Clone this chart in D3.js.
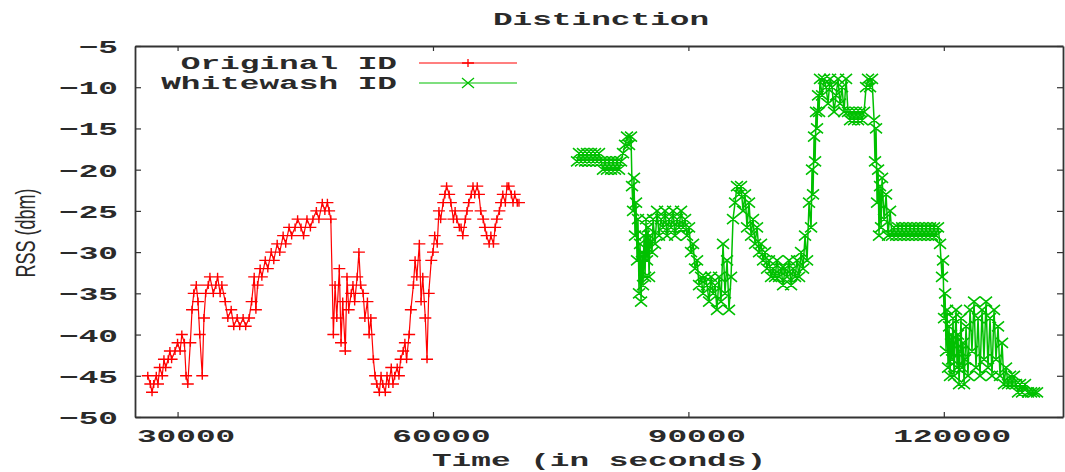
<!DOCTYPE html>
<html>
<head>
<meta charset="utf-8">
<script src="https://cdn.jsdelivr.net/npm/d3@7"></script>
<style>
  html, body { margin: 0; padding: 0; background: #fff; }
  svg { display: block; }
</style>
</head>
<body>
<svg id="chart" width="1065" height="472"></svg>
<script>
// ---------- data ----------
const chartTitle = "Distinction";
const xLabel = "Time (in seconds)";
const yLabel = "RSS (dbm)";
const seriesNames = ["Original ID", "Whitewash ID"];
const xTicks = [30000, 60000, 90000, 120000];
const yTicks = [-50, -45, -40, -35, -30, -25, -20, -15, -10, -5];

const originalTime = [
  26500,26800,27000,27200,27500,27700,27900,28200,28400,28600,
  28900,29100,29300,29700,30000,30300,30500,30800,31000,31200,
  31500,31700,31900,32200,32400,32600,32900,33100,33300,33600,
  33800,34200,34500,34700,35000,35200,35600,35900,36300,36600,
  37000,37300,37700,38000,38400,38700,39000,39200,39400,39700,
  39900,40300,40600,41000,41300,41700,42000,42400,42700,43100,
  43400,43800,44100,44500,44800,45200,45600,45900,46300,46600,
  47000,47300,47600,47800,48000,48300,48500,48700,49000,49200,
  49400,49700,49900,50100,50400,50600,50800,51100,51300,51500,
  51800,52000,52300,52500,52700,53000,53200,53400,53700,53900,
  54100,54400,54600,54800,55100,55300,55500,55800,56000,56200,
  56500,56700,56900,57200,57400,57700,57900,58100,58400,58600,
  58800,59100,59300,59500,59800,60000,60200,60500,60700,60900,
  61200,61400,61600,61900,62100,62400,62600,62800,63100,63300,
  63500,63800,64000,64200,64500,64700,64900,65200,65400,65600,
  65900,66100,66300,66600,66800,67100,67300,67500,67800,68000,
  68200,68500,68700,68900,69200,69400,69600,69900,70100
];
const originalRSS = [
  -45,-46,-47,-46,-45,-46,-44,-45,-43,-44,
  -43,-42,-43,-42,-41,-42,-40,-41,-45,-46,
  -41,-37,-35,-34,-36,-40,-45,-38,-35,-34,
  -33,-35,-34,-33,-35,-34,-36,-38,-37,-39,
  -38,-39,-38,-39,-38,-36,-33,-37,-34,-32,
  -33,-31,-32,-30,-31,-29,-30,-28,-29,-27,
  -28,-27,-26,-27,-28,-26,-27,-26,-25,-26,
  -24,-25,-24,-25,-26,-40,-34,-38,-32,-41,
  -36,-42,-33,-37,-35,-34,-36,-33,-30,-34,
  -35,-38,-36,-40,-38,-43,-45,-46,-47,-45,
  -46,-47,-45,-46,-44,-46,-45,-44,-45,-43,
  -42,-41,-43,-40,-37,-34,-31,-33,-29,-36,
  -33,-38,-43,-35,-31,-30,-28,-29,-25,-26,
  -24,-23,-22,-23,-24,-26,-25,-26,-27,-27,
  -28,-26,-25,-24,-23,-22,-23,-22,-23,-25,
  -26,-27,-28,-29,-28,-29,-27,-26,-25,-24,
  -23,-24,-22,-22,-23,-24,-23,-24,-24
];

const whitewashTime = [
  76920,77150,77390,77620,77860,78090,78330,78560,78800,79030,
  79270,79500,79740,79970,80210,80440,80680,80910,81150,81380,
  81620,81850,82090,82320,82560,82790,83030,83260,
  83380,83500,83610,83730,83850,83970,84080,84200,84320,84440,
  84550,84670,84790,84910,85020,85140,85260,85380,85490,
  85730,85850,86080,86320,86550,86790,87020,87260,87490,87730,
  87960,88200,88430,88670,88900,89140,89370,89610,89840,90080,
  90310,90550,90780,91020,91250,91490,91720,91960,92190,92430,
  92660,92900,93130,93360,93600,93830,94070,94300,94540,94770,
  95010,95240,95480,95710,95950,96180,96420,96650,96890,97120,
  97360,97590,97830,98060,98300,98530,98770,99000,99240,99470,
  99710,99940,100180,100410,100650,100880,101120,101350,101590,101820,
  102060,102290,102530,102760,103000,103230,103470,103700,103940,104170,
  104410,
  104520,104640,104760,104880,104990,105110,105230,105350,105460,
  105700,105930,106170,106400,106640,106870,107110,107340,107580,107810,
  108050,108280,108520,108750,108990,109220,109460,109690,109930,110160,
  110400,110630,110870,111100,111340,111570,111810,
  111920,112040,112160,112280,112390,112510,112630,112750,
  112980,113220,113450,113690,113920,114160,114390,114630,114860,115100,
  115330,115570,115800,116040,116270,116510,116740,116980,117210,117450,
  117680,117920,118150,118390,118620,118850,119090,119320,119560,119790,
  119910,120030,120150,120260,120380,120500,120620,120730,120850,120970,
  121080,121200,121320,121440,121550,121670,121790,121910,122020,122140,
  122260,122380,122490,122610,
  122840,123080,123310,123550,123780,124020,124250,124490,124720,124960,
  125190,125430,125660,125900,126130,126370,126600,126840,127070,127310,
  127540,127780,128010,128250,128480,128720,128950,129190,
  129540,129890,130250,130600,130950
];
const whitewashRSS = [
  -19,-18,-19,-18,-19,-18,-19,-18,-19,-18,
  -19,-18,-19,-20,-19,-20,-19,-20,-19,-20,
  -19,-20,-19,-18,-17,-16,-17,-16,
  -22,-25,-21,-28,-24,-31,-26,-35,-29,-36,
  -30,-34,-28,-33,-26,-31,-27,-33,-28,
  -30,-26,-29,-25,-28,-26,-27,-25,-28,-26,
  -27,-25,-28,-26,-27,-25,-27,-26,-28,-27,
  -30,-29,-32,-31,-34,-33,-35,-33,-34,-36,
  -33,-35,-34,-37,-33,-36,-29,-35,-31,-37,
  -33,-26,-24,-22,-23,-22,-25,-23,-27,-24,
  -28,-26,-29,-27,-30,-29,-31,-30,-32,-31,
  -33,-32,-33,-31,-33,-32,-34,-32,-33,-31,
  -34,-32,-33,-31,-33,-30,-32,-28,-31,-24,
  -27,
  -20,-23,-16,-19,-13,-15,-11,-13,-9,
  -11,-9,-10,-12,-9,-10,-13,-11,-9,-12,
  -10,-13,-9,-13,-14,-13,-14,-13,-14,-13,
  -14,-13,-10,-9,-10,-9,-14,
  -19,-15,-24,-20,-28,-22,-27,-21,
  -26,-23,-28,-25,-28,-27,-28,-27,-28,-27,
  -28,-27,-28,-27,-28,-27,-28,-27,-28,-27,
  -28,-27,-28,-27,-28,-27,-28,-27,-29,-33,
  -31,-38,-35,-42,-37,-44,-39,-45,-40,-43,
  -38,-45,-41,-37,-44,-40,-46,-42,-38,-44,
  -41,-46,-43,-39,
  -45,-37,-42,-36,-44,-38,-45,-37,-43,-36,
  -44,-38,-45,-37,-43,-39,-45,-41,-46,-44,
  -46,-45,-46,-45,-46,-47,-46,-47,
  -46,-47,-47,-47,-47
];

// ---------- layout ----------
const W = 1065, H = 472;
const plot = { left: 135, right: 1063, top: 46, bottom: 417 };
const SX = 1.82; // horizontal stretch of the text
const FS = "18px";
const monoFont = "'Liberation Mono', 'DejaVu Sans Mono', monospace";
const colors = ["#ff0000", "#00c000"];
const axisColor = "#333";
const textColor = "#2a2a2a";

const svg = d3.select("#chart");
svg.append("rect").attr("width", W).attr("height", H).attr("fill", "#fff");

const x = d3.scaleLinear().domain([25000, 134000]).range([plot.left, plot.right]);
const y = d3.scaleLinear().domain([-50, -5]).range([plot.bottom, plot.top]);

function monoText(sel) {
  return sel.attr("fill", textColor)
    .style("font-family", monoFont).style("font-size", FS).style("font-weight", "bold");
}

// axes (gnuplot style: ticks inward, mirrored)
function styleAxis(g) {
  g.select(".domain").attr("stroke", axisColor).attr("stroke-width", 1.8);
  g.selectAll(".tick line").attr("stroke", axisColor).attr("stroke-width", 1.2);
}
const gx = svg.append("g").attr("transform", `translate(0,${plot.bottom})`)
  .call(d3.axisBottom(x).tickValues(xTicks).tickSizeInner(-5).tickSizeOuter(0).tickFormat(d3.format("d")))
  .call(styleAxis);
gx.selectAll(".tick text")
  .attr("x", 0).attr("y", 0).attr("dy", 0)
  .attr("transform", `translate(8,25) scale(${SX},1)`)
  .call(monoText);

const gy = svg.append("g").attr("transform", `translate(${plot.left},0)`)
  .call(d3.axisLeft(y).tickValues(yTicks).tickSizeInner(-6).tickSizeOuter(0).tickFormat(d => "\u2212" + Math.abs(d)))
  .call(styleAxis);
gy.selectAll(".tick text")
  .attr("x", 0).attr("dy", "0.36em")
  .attr("transform", `translate(-17,0) scale(${SX},1)`)
  .attr("text-anchor", "end")
  .call(monoText);

svg.append("g").attr("transform", `translate(0,${plot.top})`)
  .call(d3.axisTop(x).tickValues(xTicks).tickSizeInner(-5).tickSizeOuter(0).tickFormat(""))
  .call(styleAxis);
svg.append("g").attr("transform", `translate(${plot.right},0)`)
  .call(d3.axisRight(y).tickValues(yTicks).tickSizeInner(-6).tickSizeOuter(0).tickFormat(""))
  .call(styleAxis);

// ---------- series ----------
const originalData = originalTime.map((t, i) => ({ t, v: originalRSS[i] }));
const whitewashData = whitewashTime.map((t, i) => ({ t, v: whitewashRSS[i] }));

const line = d3.line().x(d => x(d.t)).y(d => y(d.v));
const plus = (cx, cy) => `M${cx - 6},${cy}H${cx + 6}M${cx},${cy - 4}V${cy + 4}`;
const cross = (cx, cy) => `M${cx - 6},${cy - 5}L${cx + 6},${cy + 5}M${cx - 6},${cy + 5}L${cx + 6},${cy - 5}`;

const dataG = svg.append("g");
function drawSeries(data, color, marker, lw, mw) {
  dataG.append("path").datum(data)
    .attr("d", line).attr("fill", "none").attr("stroke", color).attr("stroke-width", lw);
  dataG.append("path")
    .attr("d", data.map(d => marker(x(d.t), y(d.v))).join(""))
    .attr("fill", "none").attr("stroke", color).attr("stroke-width", mw);
}
drawSeries(originalData, colors[0], plus, 1.2, 1.4);
drawSeries(whitewashData, colors[1], cross, 1.5, 1.6);

// ---------- legend ----------
const legendRows = [
  { name: seriesNames[0], color: colors[0], marker: plus, yPos: 63 },
  { name: seriesNames[1], color: colors[1], marker: cross, yPos: 83 }
];
legendRows.forEach(r => {
  svg.append("text")
    .attr("transform", `translate(397,${r.yPos}) scale(${SX},1)`)
    .attr("dy", "0.33em")
    .attr("text-anchor", "end")
    .call(monoText)
    .text(r.name);
  svg.append("line").attr("x1", 419).attr("x2", 517).attr("y1", r.yPos).attr("y2", r.yPos)
    .attr("stroke", r.color).attr("stroke-width", 1.1);
  svg.append("path").attr("d", r.marker(468, r.yPos))
    .attr("fill", "none").attr("stroke", r.color).attr("stroke-width", 1.3);
});

// ---------- titles ----------
svg.append("text")
  .attr("transform", `translate(601,25) scale(${SX},1)`)
  .attr("text-anchor", "middle")
  .call(monoText)
  .text(chartTitle);

svg.append("text")
  .attr("transform", `translate(599,466) scale(${SX},1)`)
  .attr("text-anchor", "middle")
  .call(monoText)
  .text(xLabel);

svg.append("text")
  .attr("transform", `translate(25,233) scale(1.5,1) rotate(-90)`)
  .attr("text-anchor", "middle").attr("dy", "0.36em").attr("fill", textColor)
  .style("font-family", "'Liberation Sans', Arial, sans-serif").style("font-size", "18px")
  .text(yLabel);
</script>
</body>
</html>
